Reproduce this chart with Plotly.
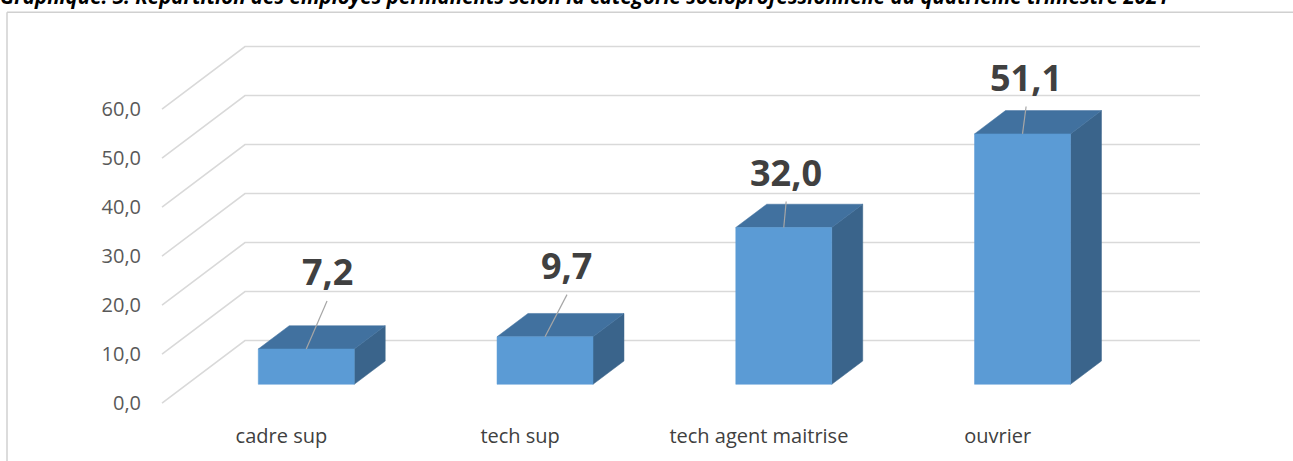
import plotly.graph_objects as go

# ---------------- data ----------------
categories = ["cadre sup", "tech sup", "tech agent maitrise", "ouvrier"]
values = [7.2, 9.7, 32.0, 51.1]
y_ticks = [0, 10, 20, 30, 40, 50, 60]
title_text = ("Graphique: 3. Répartition des employés permanents selon la catégorie "
              "socioprofessionnelle au quatrième trimestre 2021")

# ---------------- layout / style constants ----------------
W, H_PX = 1293, 461
M_L, M_R, M_T, M_B = 150, 80, 40, 50
ZERO_PX = 406.0          # front-plane zero (pixel row)
PX_PER_UNIT = 4.94       # vertical pixels per value unit
CAT_PX = 238.75          # pixels per category
FRONT_LEFT_PX = 162.0    # left edge of the front plane
DEPTH_X = 0.3476         # oblique depth, in category units
DEPTH_Y = 12.75          # oblique depth, in value units
BAR_W = 0.402            # bar width, category units
F1, F2 = 0.30, 0.673     # bar front/back depth fractions
# manual label placement (Excel dragged labels), offsets from bar top-front centre
label_dx = [0.087, 0.092, 0.010, 0.015]
label_dy = [15.8, 14.6, 11.3, 11.6]

plot_w = W - M_L - M_R
plot_h = H_PX - M_T - M_B
x_range = [(M_L - FRONT_LEFT_PX) / CAT_PX - 0.5, (W - M_R - FRONT_LEFT_PX) / CAT_PX - 0.5]
y_range = [-(H_PX - M_B - ZERO_PX) / PX_PER_UNIT, (ZERO_PX - M_T) / PX_PER_UNIT]


def paper_x(px):
    return (px - M_L) / plot_w


def paper_y(py):
    return (H_PX - M_B - py) / plot_h


GRID = "#D9D9D9"
FRONT = "#5B9BD5"
TOP = "#41719F"
SIDE = "#3A648B"

fig = go.Figure()

# ---------------- gridlines (left wall diagonals + back wall) ----------------
x_left = -0.5
x_back_left = -0.5 + DEPTH_X
x_back_right = (1200 - FRONT_LEFT_PX) / CAT_PX - 0.5
gx, gy = [], []
for v in y_ticks:
    gx += [x_left, x_back_left, x_back_right, None]
    gy += [v, v + DEPTH_Y, v + DEPTH_Y, None]
fig.add_trace(go.Scatter(x=gx, y=gy, mode="lines", line=dict(color=GRID, width=1.6),
                         hoverinfo="skip", showlegend=False))

# ---------------- 3D bars ----------------
dd_x = (F2 - F1) * DEPTH_X
dd_y = (F2 - F1) * DEPTH_Y
for i, v in enumerate(values):
    cx = i + F1 * DEPTH_X
    xl, xr = cx - BAR_W / 2, cx + BAR_W / 2
    yb = F1 * DEPTH_Y
    yt = yb + v
    # side face
    fig.add_trace(go.Scatter(x=[xr, xr + dd_x, xr + dd_x, xr, xr],
                             y=[yb, yb + dd_y, yt + dd_y, yt, yb],
                             fill="toself", fillcolor=SIDE, mode="lines",
                             line=dict(color=SIDE, width=0.5),
                             hoverinfo="skip", showlegend=False))
    # top face
    fig.add_trace(go.Scatter(x=[xl, xl + dd_x, xr + dd_x, xr, xl],
                             y=[yt, yt + dd_y, yt + dd_y, yt, yt],
                             fill="toself", fillcolor=TOP, mode="lines",
                             line=dict(color=TOP, width=0.5),
                             hoverinfo="skip", showlegend=False))
    # front face
    fig.add_trace(go.Scatter(x=[xl, xr, xr, xl, xl],
                             y=[yb, yb, yt, yt, yb],
                             fill="toself", fillcolor=FRONT, mode="lines",
                             line=dict(color=FRONT, width=0.5),
                             hoverinfo="skip", showlegend=False,
                             name=categories[i]))
    # data label + leader line
    lx = cx + label_dx[i]
    ly = yt + label_dy[i]
    fig.add_trace(go.Scatter(x=[lx, cx], y=[ly - 6.0, yt], mode="lines",
                             line=dict(color="#A6A6A6", width=1.2),
                             hoverinfo="skip", showlegend=False))
    fig.add_annotation(x=lx, y=ly, xref="x", yref="y", showarrow=False,
                       text=f"{v:.1f}".replace(".", ","),
                       font=dict(family="Open Sans", size=36, color="#404040", weight="bold"),
                       xanchor="center", yanchor="middle")

# ---------------- title & border ----------------
fig.add_annotation(xref="paper", yref="paper", x=paper_x(-2), y=paper_y(12),
                   text=f"<b><i>{title_text}</i></b>", showarrow=False,
                   xanchor="left", yanchor="bottom",
                   font=dict(family="Open Sans", size=20.5, color="#000000"))
fig.add_shape(type="line", xref="paper", yref="paper",
              x0=paper_x(7), y0=paper_y(12), x1=paper_x(1320), y1=paper_y(12),
              line=dict(color="#D0D0D0", width=1.5))
fig.add_shape(type="line", xref="paper", yref="paper",
              x0=paper_x(7), y0=paper_y(12), x1=paper_x(7), y1=paper_y(480),
              line=dict(color="#D0D0D0", width=1.5))

fig.update_layout(
    width=W, height=H_PX,
    margin=dict(l=M_L, r=M_R, t=M_T, b=M_B),
    paper_bgcolor="white", plot_bgcolor="white",
    separators=", ",
    showlegend=False,
    font=dict(family="Open Sans", color="#595959"),
    xaxis=dict(range=x_range, showgrid=False, zeroline=False, showline=False,
               tickmode="array", tickvals=list(range(len(categories))), ticktext=categories,
               tickfont=dict(size=20, color="#404040"), ticks="", ticklabelstandoff=14,
               fixedrange=True),
    yaxis=dict(range=y_range, showgrid=False, zeroline=False, showline=False,
               tickmode="array", tickvals=y_ticks,
               ticktext=[f"{t:.1f}".replace(".", ",") for t in y_ticks],
               tickfont=dict(size=20, color="#595959"), ticks="", ticklabelstandoff=8,
               fixedrange=True),
)

fig.write_html("out.html", config={"displayModeBar": False},
               post_script="document.body.style.margin='0px';document.body.style.overflow='hidden';")
